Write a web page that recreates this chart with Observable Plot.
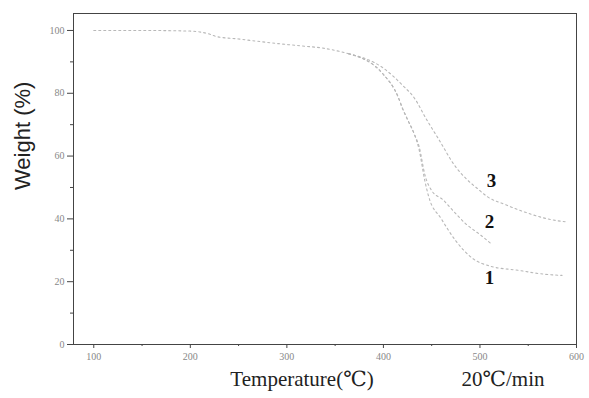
<!DOCTYPE html>
<html>
<head>
<meta charset="utf-8">
<script src="https://cdn.jsdelivr.net/npm/d3@7"></script>
<script src="https://cdn.jsdelivr.net/npm/@observablehq/plot@0.6"></script>
<style>
  html, body { margin: 0; padding: 0; background: #fff; }
  #chart { width: 589px; height: 398px; }
</style>
</head>
<body>
<div id="chart"></div>
<script>
// Shared initial part (all three samples)
const commonT = [100, 150, 200, 218, 228, 250, 263, 291, 311, 341, 364];
const commonW = [100, 100, 99.8, 99, 98, 97.3, 96.8, 95.8, 95.2, 94.2, 92.6];

// Sample 1
const s1T = [364, 400, 415, 420, 426, 432, 437, 443, 447, 460, 475, 492, 510, 540, 566, 585];
const s1W = [92.6, 86, 79, 75, 71, 67, 62, 52, 47, 40, 33, 27.5, 25, 23.6, 22.4, 22];
// Sample 2
const s2T = [364, 400, 415, 420, 426, 432, 437, 443, 450, 462, 471, 485, 500, 512];
const s2W = [92.6, 86, 79, 75, 71, 67, 63, 54, 49, 46, 43, 38.5, 35, 32];
// Sample 3
const s3T = [364, 400, 420, 432, 445, 457, 475, 486, 498, 508, 525, 548, 570, 590];
const s3W = [92.6, 88, 82.5, 78.5, 71.5, 65.5, 56.5, 52.7, 49.5, 47, 44.7, 42, 40, 39];

// Curve labels
const labelText = ["3", "2", "1"];
const labelT = [512, 510, 510];
const labelW = [52.2, 38.9, 21.3];

const xMajor = [100, 200, 300, 400, 500, 600];
const xMinor = [150, 250, 350, 450, 550];
const yMajor = [0, 20, 40, 60, 80, 100];
const yMinor = [10, 30, 50, 70, 90];

const toRows = (T, W, s) => T.map((t, i) => ({t, w: W[i], s}));
const rows = [
  ...toRows(commonT, commonW, "c"),
  ...toRows(s1T, s1W, "1"),
  ...toRows(s2T, s2W, "2"),
  ...toRows(s3T, s3W, "3")
];
const labels = labelText.map((k, i) => ({k, t: labelT[i], w: labelW[i]}));

const serif = "'Liberation Serif', 'DejaVu Serif', serif";
const lineStyle = {stroke: "#b8b8b8", strokeWidth: 1.1, strokeDasharray: "2,3"};

const chart = Plot.plot({
  width: 589,
  height: 398,
  marginLeft: 73,
  marginRight: 13,
  marginTop: 13,
  marginBottom: 54,
  style: {background: "#fff", fontFamily: serif},
  x: {domain: [79, 600]},
  y: {domain: [0, 105.4]},
  marks: [
    Plot.frame({stroke: "#444", strokeWidth: 1}),
    Plot.axisX({ticks: xMajor, tickSize: 4, tickPadding: 4, fontSize: 10, label: null, color: "#888", stroke: "#444", fontFamily: serif}),
    Plot.axisX({ticks: xMinor, tickSize: 2, tickFormat: () => "", label: null, stroke: "#444"}),
    Plot.axisY({ticks: yMajor, tickSize: 6, tickPadding: 3, fontSize: 10, label: null, color: "#888", stroke: "#444", fontFamily: serif}),
    Plot.axisY({ticks: yMinor, tickSize: 3, tickFormat: () => "", label: null, stroke: "#444"}),
    Plot.line(rows, {x: "t", y: "w", z: "s", curve: "monotone-x", ...lineStyle}),
    Plot.text(labels, {x: "t", y: "w", text: "k", fontSize: 19, fontWeight: "bold", fontFamily: serif, fill: "#111"}),
    Plot.text(["Weight (%)"], {frameAnchor: "left", rotate: -90, dx: -51, dy: 11, fontSize: 22, fontFamily: "'Liberation Sans', Arial, sans-serif", fill: "#222"}),
    Plot.text(["Temperature(\u2103)"], {frameAnchor: "bottom", dx: -23, dy: 41, fontSize: 21, fontFamily: serif, fill: "#222"}),
    Plot.text(["20\u2103/min"], {frameAnchor: "bottom", dx: 178, dy: 41, fontSize: 21, fontFamily: serif, fill: "#222"})
  ]
});
document.getElementById("chart").appendChild(chart);
</script>
</body>
</html>
